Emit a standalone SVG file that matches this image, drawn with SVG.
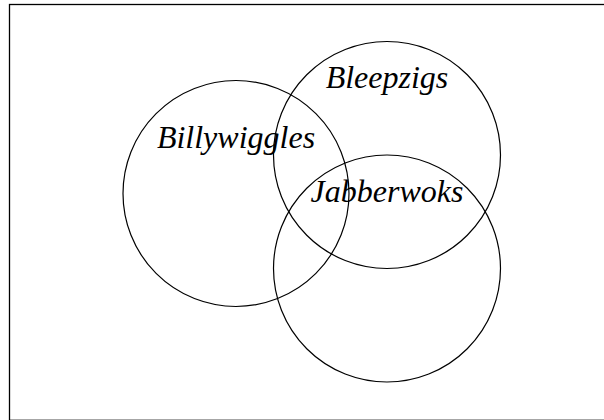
<svg xmlns="http://www.w3.org/2000/svg" width="604" height="420" viewBox="0 0 604 420">
<style>
.set{fill:none;stroke:#000;stroke-width:1.2}
.lbl{font-family:"Liberation Serif","Times New Roman",serif;font-style:italic;font-size:32px;fill:#000;text-anchor:middle}
</style>
<rect x="9.5" y="4.5" width="600" height="415.8" fill="#fff" stroke="#000" stroke-width="1.3"/>
<g id="billywiggles">
<circle class="set" cx="236" cy="193.5" r="113"/>
<text class="lbl" x="236" y="148">Billywiggles</text>
</g>
<g id="bleepzigs">
<circle class="set" cx="387" cy="155" r="113.5"/>
<text class="lbl" x="387" y="88">Bleepzigs</text>
</g>
<g id="jabberwoks">
<circle class="set" cx="387" cy="268.5" r="113.5"/>
<text class="lbl" x="387" y="202">Jabberwoks</text>
</g>
<g id="connectors"></g>
</svg>
